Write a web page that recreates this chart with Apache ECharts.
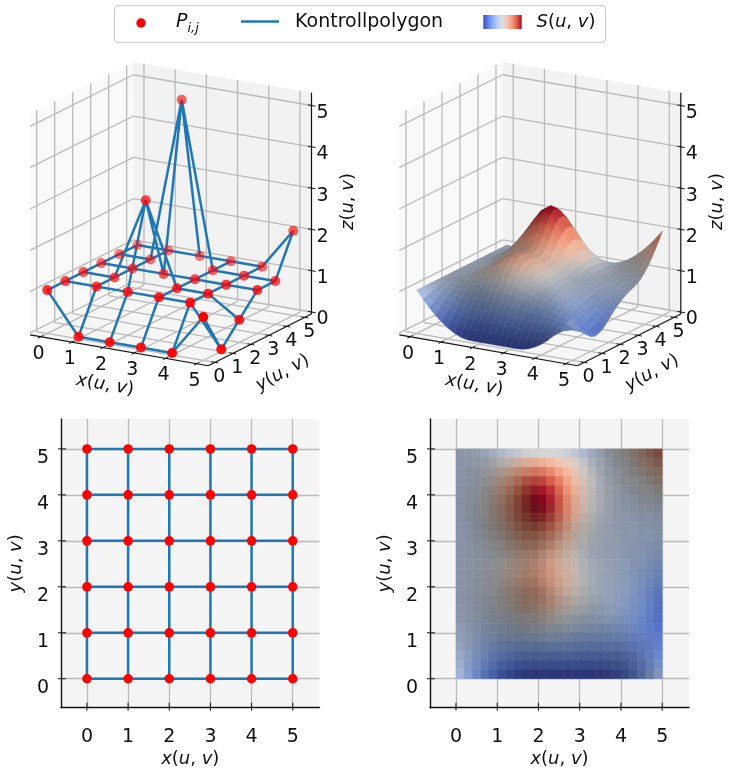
<!DOCTYPE html>
<html><head><meta charset="utf-8"><style>html,body{margin:0;background:#fff}#c{width:729px;height:768px}</style></head>
<body><div id="c"></div>
<script src="https://cdn.jsdelivr.net/npm/echarts@6/dist/echarts.min.js"></script>
<script>
// ---- data ----
const tickValues = [0, 1, 2, 3, 4, 5];
const zTickValues = [0, 1, 2, 3, 4, 5];
const gridX = [0, 1, 2, 3, 4, 5];
const gridY = [0, 1, 2, 3, 4, 5];
// control point heights: one row per y = 0..5, one column per x = 0..5
const controlZ = [
  [1, 0, 0, 0, 0, 1],
  [1, 1, 1, 1, 1, 0],
  [1, 1, 3, 1, 1, 0.5],
  [1, 1, 1, 1, 1, 1],
  [1, 1, 5, 1, 1, 1],
  [1, 1, 1, 1, 1, 2]
];
// ---- estimated surface, NOT read pixel by pixel ----
// Values come from a clamped cubic B-spline evaluated on controlZ in a separate scratch run,
// then pasted here and compared with the reference by eye. It is a model fit of S(u,v).
// Height in hundredths; first row y = 5, last row y = 0, columns x = 0, 0.2 .. 5
const surfaceStep = 0.2;
const surfaceZ = [
[100,100,100,100,100,100,100,100,100,100,100,100,100,100,100,100,100,101,105,112,121,133,147,163,181,200],
[100,101,102,105,109,114,120,127,135,141,144,143,138,131,123,115,109,107,107,111,118,127,138,151,165,181],
[100,101,104,109,116,126,137,150,164,175,182,180,171,157,142,128,117,111,109,110,115,121,130,140,151,163],
[100,101,105,112,122,135,150,168,187,203,211,208,196,178,157,138,123,114,110,110,112,116,122,129,138,147],
[100,102,106,114,126,141,160,181,203,222,231,228,214,192,167,145,128,117,111,109,109,112,116,121,126,132],
[100,102,107,115,128,145,165,188,212,232,243,239,223,200,173,149,130,118,111,108,107,108,110,113,116,120],
[100,102,107,116,128,145,165,188,212,233,243,240,224,200,173,149,130,118,111,107,105,105,105,107,108,110],
[100,102,106,115,126,142,161,182,205,224,234,230,216,194,169,146,128,117,110,105,103,102,102,102,102,103],
[100,101,105,113,123,136,152,171,190,207,215,212,200,181,159,139,124,114,108,104,102,100,99,99,98,98],
[100,101,104,110,118,129,142,157,172,185,192,190,180,164,147,131,119,111,106,103,100,99,97,96,95,94],
[100,101,103,108,114,123,133,145,157,167,172,171,163,151,137,125,115,109,105,102,99,97,95,94,92,90],
[100,101,103,107,112,120,129,139,149,158,163,161,154,144,132,121,113,108,104,101,98,95,93,90,87,84],
[100,101,103,107,112,119,128,138,148,157,162,160,153,143,132,121,113,107,103,100,96,93,90,86,82,77],
[100,101,103,107,113,121,130,140,151,161,165,164,157,146,134,122,114,108,103,99,95,90,86,81,75,69],
[100,101,103,108,114,122,132,143,155,165,170,168,160,149,136,124,115,108,103,98,93,87,81,75,68,60],
[100,101,103,108,114,122,132,144,155,166,171,169,161,150,136,124,115,108,102,97,91,84,77,69,60,50],
[100,101,103,107,113,120,130,140,151,161,165,164,157,146,134,122,114,107,102,95,89,81,72,62,52,40],
[100,100,102,105,110,116,124,133,142,150,154,153,147,137,127,118,110,105,99,93,86,77,68,57,45,32],
[100,100,100,102,105,110,115,122,129,135,139,138,133,125,117,110,104,99,95,89,82,73,64,53,41,28],
[100,98,97,97,99,101,104,109,114,118,121,120,116,111,105,99,95,92,88,83,76,69,60,50,39,27],
[100,96,93,91,90,90,92,94,97,100,101,101,98,95,90,87,84,81,78,74,70,64,57,49,41,31],
[100,94,89,84,81,78,77,78,79,80,81,81,79,77,74,72,70,69,67,65,62,58,54,50,45,39],
[100,91,83,76,70,65,62,60,60,60,61,61,60,59,57,56,55,54,54,53,53,52,52,51,51,50],
[100,88,77,67,58,51,46,42,41,40,40,40,40,39,39,38,38,38,39,40,43,46,50,54,59,64],
[100,84,70,57,46,36,29,24,21,20,20,20,20,20,20,20,20,20,22,26,32,40,48,58,69,81],
[100,81,63,47,33,21,12,5,1,0,0,0,0,0,0,0,0,1,5,12,21,33,47,63,81,100]
];
const legendPolygon = 'Kontrollpolygon';

// ---- look ----
const FONT = 'DejaVu Sans';
const FS = 19, FS_MATH = 18;
const BLUE = '#1f77b4', RED = '#ff0000', GRID = '#bababa', INK = '#111111';
const COOLWARM = ['#3b4cc0','#6282ea','#8db0fe','#bbd1f8','#dddcdc','#f5c4ac','#f4987a','#dc5d4a','#b40426'];
const hex = h => [1,3,5].map(k => parseInt(h.substr(k,2),16));
function coolwarm(t){
  t = Math.max(0, Math.min(1, t)) * (COOLWARM.length - 1);
  const a = Math.min(COOLWARM.length - 2, Math.floor(t)), f = t - a;
  const A = hex(COOLWARM[a]), B = hex(COOLWARM[a+1]);
  return A.map((v,k) => v + (B[k]-v)*f);
}
const mathRich = fs => ({i:{fontFamily:FONT,fontStyle:'italic',fontSize:fs,color:INK},n:{fontFamily:FONT,fontSize:fs,color:INK}});
const mathText = (a,b,c) => `{i|${a}}{n|(}{i|${b}}{n|, }{i|${c}}{n|)}`;
const css = rgb => `rgb(${rgb.map(v=>Math.round(v)).join(',')})`;

// ---- orthographic view of the two 3D boxes ----
const VIEW = {ox:47.3, oy:331.4, ex:[31.2,5.39], ey:[18,-9], ez:[0,-41.3],
  xlim:[-0.34,5.37], ylim:[-0.37,5.37], zlim:[-0.05,5.31]};
const PANEL_SHIFT = [0, 369.3];
function proj(p,x,y,z){
  return [VIEW.ox + PANEL_SHIFT[p] + x*VIEW.ex[0] + y*VIEW.ey[0] + z*VIEW.ez[0],
          VIEW.oy + x*VIEW.ex[1] + y*VIEW.ey[1] + z*VIEW.ez[1]];
}
const nearness = (x,y) => 0.5*x - 0.866*y;

// ---- surface cells with colour and shading ----
const N = surfaceZ.length;
const zAt = (i,j) => surfaceZ[N-1-j][i] / 100;
let zMin = Infinity, zMax = -Infinity;
surfaceZ.forEach(r => r.forEach(v => { zMin = Math.min(zMin,v/100); zMax = Math.max(zMax,v/100); }));
const cells = [];
for (let j=0;j<N-1;j++) for (let i=0;i<N-1;i++){
  const a=zAt(i,j), b=zAt(i+1,j), c=zAt(i+1,j+1), d=zAt(i,j+1);
  const dzx=((b+c)-(a+d))/2/surfaceStep, dzy=((c+d)-(a+b))/2/surfaceStep;
  const z=(a+b+c+d)/4, t=(z-zMin)/(zMax-zMin), L=Math.hypot(dzx,dzy,1);
  // hand-tuned to the picture, not a physical light model: bumps look lit on their near side in the 3D view
  const g=1-1.2*Math.max(0,Math.min(1,(t-0.35)/0.3));
  cells.push({i,j,t,flat:(-dzx-dzy-0.5)/L,view:(-dzx-g*dzy-0.5)/L});
}
function paint(key){
  const store={};
  const lo=Math.min(...cells.map(c=>c[key])), hi=Math.max(...cells.map(c=>c[key]));
  cells.forEach(c=>{
    const k=0.5+0.5*(c[key]-lo)/(hi-lo);
    store[c.i+'_'+c.j]=coolwarm(c.t).map(v=>v*k);
  });
  return store;
}
const flatRGB=paint('flat'), viewRGB=paint('view');
const paintOrder = cells.slice().sort((a,b)=>nearness(a.i,a.j)-nearness(b.i,b.j)).map(c=>[c.i,c.j]);
// colour along a row edge of the view: mean of the two cells that share it
function edgeRGB(i,j){
  const A=viewRGB[i+'_'+(j-1)], B=viewRGB[i+'_'+j];
  if(!A) return B; if(!B) return A;
  return A.map((v,k)=>(v+B[k])/2);
}

// ---- control net data ----
function netPath(map){
  const out=[];
  gridY.forEach((y,j)=>{gridX.forEach((x,i)=>out.push(map(x,y,controlZ[j][i]))); out.push(['-','-']);});
  gridX.forEach((x,i)=>{gridY.forEach((y,j)=>out.push(map(x,y,controlZ[j][i]))); out.push(['-','-']);});
  return out;
}
const dotList=[];
gridY.forEach((y,j)=>gridX.forEach((x,i)=>dotList.push({x,y,z:controlZ[j][i]})));
const nMin=nearness(0,5), nMax=nearness(5,0);
const dots3d = dotList.slice().sort((a,b)=>nearness(a.x,a.y)-nearness(b.x,b.y)).map(d=>({
  value:proj(0,d.x,d.y,d.z),
  itemStyle:{color:RED,opacity:1-0.55*(nMax-nearness(d.x,d.y))/(nMax-nMin)}
}));

// ---- 3D box: panes, grid, axes, ticks, labels ----
function box3d(p){
  return function(params,api){
    const P=(x,y,z)=>api.coord(proj(p,x,y,z));
    const [x0,x1]=VIEW.xlim,[y0,y1]=VIEW.ylim,[z0,z1]=VIEW.zlim;
    const els=[];
    const poly=(pts,fill)=>els.push({type:'polygon',shape:{points:pts},style:{fill}});
    const line=(a,b,stroke,w)=>els.push({type:'line',shape:{x1:a[0],y1:a[1],x2:b[0],y2:b[1]},style:{stroke,lineWidth:w}});
    const text=(pos,t,rot,rich)=>els.push({type:'text',x:pos[0],y:pos[1],rotation:rot||0,
      style:{text:t,rich,fontFamily:FONT,fontSize:FS,fill:INK,align:'center',verticalAlign:'middle'}});
    poly([P(x0,y0,z0),P(x0,y1,z0),P(x0,y1,z1),P(x0,y0,z1)],'#f9f9f9');
    poly([P(x0,y1,z0),P(x1,y1,z0),P(x1,y1,z1),P(x0,y1,z1)],'#f2f2f2');
    poly([P(x0,y0,z0),P(x1,y0,z0),P(x1,y1,z0),P(x0,y1,z0)],'#f6f6f6');
    tickValues.forEach(v=>{
      line(P(v,y0,z0),P(v,y1,z0),GRID,1.3); line(P(v,y1,z0),P(v,y1,z1),GRID,1.3);
      line(P(x1,v,z0),P(x0,v,z0),GRID,1.3); line(P(x0,v,z0),P(x0,v,z1),GRID,1.3);
    });
    zTickValues.forEach(v=>{ line(P(x0,y0,v),P(x0,y1,v),GRID,1.3); line(P(x0,y1,v),P(x1,y1,v),GRID,1.3); });
    line(P(x0,y0,z0),P(x1,y0,z0),INK,1.2); line(P(x1,y0,z0),P(x1,y1,z0),INK,1.2); line(P(x1,y1,z0),P(x1,y1,z1),INK,1.2);
    tickValues.forEach(v=>{
      const a=P(v,y0,z0), b=P(x1,v,z0);
      line([a[0]-2.6,a[1]+1.3],[a[0]+2.6,a[1]-1.3],INK,1);
      line([b[0]-3.5,b[1]-0.6],[b[0]+3.5,b[1]+0.6],INK,1);
      text([a[0]-2,a[1]+17],String(v));
      text([b[0]+4.5,b[1]+14.5],String(v));
    });
    zTickValues.forEach(v=>{
      const c=P(x1,y1,v);
      line([c[0]-3.5,c[1]-0.6],[c[0]+4,c[1]+0.7],INK,1);
      text([c[0]+11,c[1]+7.5],String(v));
    });
    const tx=P(2.5,y0,z0), ty=P(x1,2.5,z0), tz=P(x1,y1,2.5);
    text([tx[0]-13.6,tx[1]+34.8],mathText('x','u','v'),-0.171,mathRich(FS_MATH));
    text([ty[0]+22.9,ty[1]+33],mathText('y','u','v'),0.5,mathRich(FS_MATH));
    text([tz[0]+36.8,tz[1]-7.2],mathText('z','u','v'),Math.PI/2,mathRich(FS_MATH));
    return {type:'group',children:els};
  };
}

function surface3d(p){
  return function(params,api){
    const i=api.value(0), j=api.value(1);
    const Q=(a,b)=>api.coord(proj(p,a*surfaceStep,b*surfaceStep,zAt(a,b)));
    const q=[Q(i,j),Q(i+1,j),Q(i+1,j+1),Q(i,j+1)];
    const lowEdge=edgeRGB(i,j), highEdge=edgeRGB(i,j+1);
    const upIsFar=(q[2][1]+q[3][1])<(q[0][1]+q[1][1]);
    const fill=new echarts.graphic.LinearGradient(0,0,0,1,[
      {offset:0,color:css(upIsFar?highEdge:lowEdge)},{offset:1,color:css(upIsFar?lowEdge:highEdge)}]);
    return {type:'polygon',shape:{points:q},style:{fill,stroke:css(viewRGB[i+'_'+j]),lineWidth:0.4}};
  };
}
function heatCell(params,api){
  const i=api.value(0), j=api.value(1);
  const a=api.coord([i*surfaceStep,j*surfaceStep]), b=api.coord([(i+1)*surfaceStep,(j+1)*surfaceStep]);
  const col=css(flatRGB[i+'_'+j]);
  return {type:'rect',shape:{x:a[0],y:b[1],width:b[0]-a[0],height:a[1]-b[1]},style:{fill:col,stroke:col,lineWidth:0.5}};
}
// ticks crossing the spines of the flat panels
function crossTicks(gridBottom,gridLeft){
  return function(params,api){
    const v=api.value(0);
    const ax=api.coord([v,0]), ay=api.coord([0,v]);
    const s={stroke:INK,lineWidth:1};
    return {type:'group',children:[
      {type:'line',shape:{x1:ax[0],y1:gridBottom-5,x2:ax[0],y2:gridBottom+3},style:s},
      {type:'line',shape:{x1:gridLeft-3,y1:ay[1],x2:gridLeft+5,y2:ay[1]},style:s}
    ]};
  };
}

const LIM=[-0.63,5.65];
function flatAxis(kind,idx,nameGap,text){
  const isX=kind==='x';
  return {type:'value',gridIndex:idx,min:LIM[0],max:LIM[1],
    position:isX?'bottom':'left',
    name:text,nameLocation:'middle',nameGap,nameRotate:isX?0:90,
    nameTextStyle:{rich:mathRich(FS_MATH)},
    axisLine:{show:true,onZero:false,lineStyle:{color:INK,width:1.4}},
    axisTick:{show:false,customValues:tickValues},
    splitLine:{show:true,customValues:tickValues,lineStyle:{color:GRID,width:1.3}},
    axisLabel:{customValues:tickValues,showMinLabel:true,showMaxLabel:true,hideOverlap:false,
      color:INK,fontFamily:FONT,fontSize:FS,
      margin:isX?20:12,verticalAlign:'top'}};
}
const overlayX={type:'value',gridIndex:0,min:0,max:729,show:false};
const overlayY={type:'value',gridIndex:0,min:0,max:768,inverse:true,show:false};

const tickData=tickValues.map(v=>[v]);
const baseLine={type:'line',showSymbol:false,connectNulls:false,silent:true,animation:false,
  lineStyle:{color:BLUE,width:2.5},itemStyle:{color:BLUE}};

const option={
  animation:false,backgroundColor:'#fff',
  grid:[
    {left:0,top:0,width:729,height:768,show:false,outerBoundsMode:'none'},
    {left:61,top:419,width:258.5,height:288.7,show:true,backgroundColor:'#f5f5f5',borderWidth:0,outerBoundsMode:'none'},
    {left:430,top:419,width:259,height:288.7,show:true,backgroundColor:'#f5f5f5',borderWidth:0,outerBoundsMode:'none'}
  ],
  xAxis:[overlayX,flatAxis('x',1,43,mathText('x','u','v')),flatAxis('x',2,43,mathText('x','u','v'))],
  yAxis:[overlayY,flatAxis('y',1,36,mathText('y','u','v')),flatAxis('y',2,36,mathText('y','u','v'))],
  series:[
    {type:'custom',name:'box left',xAxisIndex:0,yAxisIndex:0,clip:false,silent:true,z:1,data:[[0,0]],renderItem:box3d(0)},
    {type:'custom',name:'box right',xAxisIndex:0,yAxisIndex:0,clip:false,silent:true,z:1,data:[[0,0]],renderItem:box3d(1)},
    {...baseLine,name:'Kontrollpolygon 3D',xAxisIndex:0,yAxisIndex:0,z:3,data:netPath((x,y,z)=>proj(0,x,y,z))},
    {type:'scatter',name:'P 3D',xAxisIndex:0,yAxisIndex:0,z:4,silent:true,symbolSize:10,data:dots3d},
    {type:'custom',name:'S 3D',xAxisIndex:0,yAxisIndex:0,clip:false,silent:true,z:2,progressive:0,data:paintOrder,renderItem:surface3d(1)},
    {...baseLine,name:'Kontrollpolygon',xAxisIndex:1,yAxisIndex:1,z:3,data:netPath((x,y)=>[x,y])},
    {type:'scatter',name:'P',xAxisIndex:1,yAxisIndex:1,z:4,silent:true,symbolSize:9.5,itemStyle:{color:RED,opacity:1},data:dotList.map(d=>[d.x,d.y])},
    {type:'custom',name:'ticks left',xAxisIndex:1,yAxisIndex:1,clip:false,silent:true,z:5,data:tickData,renderItem:crossTicks(707.7,61)},
    {type:'custom',name:'S',xAxisIndex:2,yAxisIndex:2,silent:true,z:2,progressive:0,data:paintOrder,renderItem:heatCell},
    {type:'custom',name:'ticks right',xAxisIndex:2,yAxisIndex:2,clip:false,silent:true,z:5,data:tickData,renderItem:crossTicks(707.7,430)}
  ],
  graphic:{elements:[
    {type:'rect',z:10,shape:{x:114.5,y:5.5,width:491,height:37,r:4},style:{fill:'#fff',stroke:'#cccccc',lineWidth:1.2}},
    {type:'circle',z:11,shape:{cx:141,cy:23,r:4.7},style:{fill:RED}},
    {type:'text',z:11,x:176,y:22,style:{text:'P',fontFamily:FONT,fontStyle:'italic',fontSize:FS,fill:INK,align:'left',verticalAlign:'middle'}},
    {type:'text',z:11,x:187.5,y:29,style:{text:'i,j',fontFamily:FONT,fontStyle:'italic',fontSize:13,fill:INK,align:'left',verticalAlign:'middle'}},
    {type:'line',z:11,shape:{x1:241,y1:21.5,x2:279,y2:21.5},style:{stroke:BLUE,lineWidth:2.5}},
    {type:'text',z:11,x:295,y:22,style:{text:legendPolygon,fontFamily:FONT,fontSize:FS,fill:INK,align:'left',verticalAlign:'middle'}},
    {type:'rect',z:11,shape:{x:483.3,y:15,width:38.4,height:14},style:{fill:new echarts.graphic.LinearGradient(0,0,1,0,COOLWARM.map((c,i)=>({offset:i/(COOLWARM.length-1),color:c})))}},
    {type:'text',z:11,x:536.5,y:22,style:{text:mathText('S','u','v'),rich:mathRich(FS_MATH),fontFamily:FONT,fontSize:FS_MATH,fill:INK,align:'left',verticalAlign:'middle'}}
  ]}
};
echarts.init(document.getElementById('c'),null,{renderer:'canvas'}).setOption(option);
</script></body></html>
